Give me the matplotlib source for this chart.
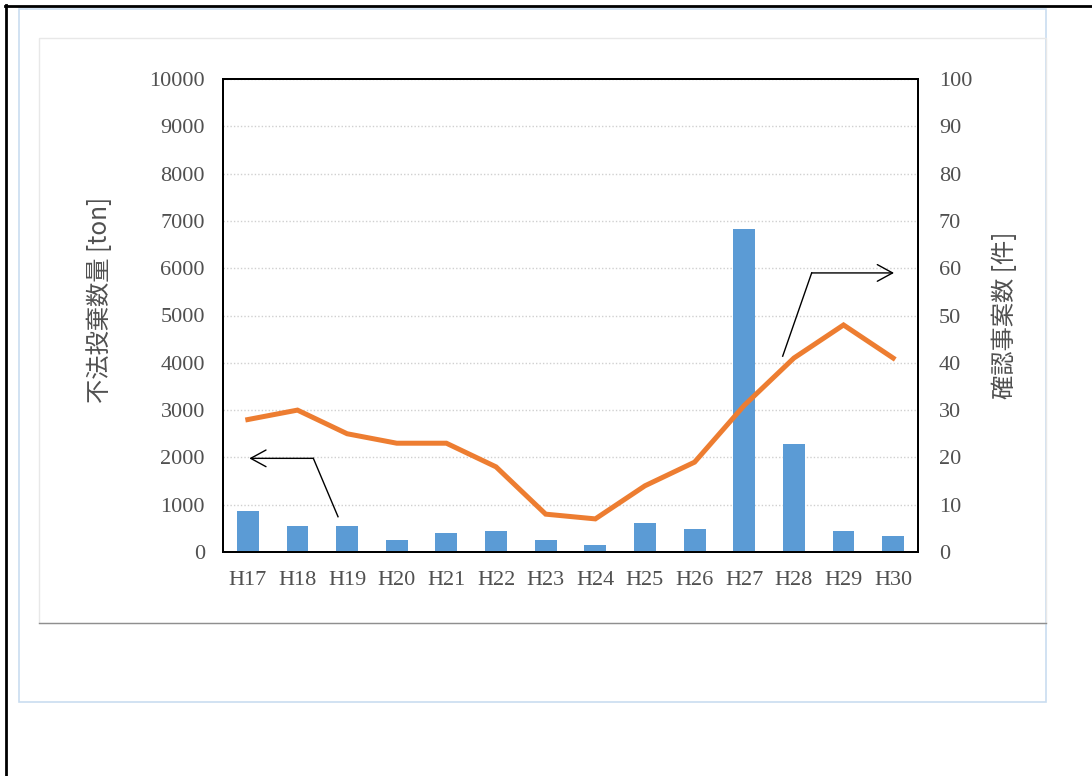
import matplotlib
matplotlib.use("Agg")
import matplotlib.pyplot as plt
from matplotlib.patches import Rectangle, FancyArrowPatch
from matplotlib.lines import Line2D
import numpy as np

# Fiscal years (Heisei era)
years = ["H17", "H18", "H19", "H20", "H21", "H22", "H23",
         "H24", "H25", "H26", "H27", "H28", "H29", "H30"]
# Illegally dumped amount [ton]
dumped_tons = [870, 540, 540, 260, 410, 450, 260,
               140, 610, 490, 6820, 2290, 440, 330]
# Number of confirmed cases
case_counts = [28, 30, 25, 23, 23, 18, 8,
               7, 14, 19, 31, 41, 48, 41]

left_ticks = list(range(0, 10001, 1000))
right_ticks = list(range(0, 101, 10))

BAR_COLOR = "#5B9BD5"
LINE_COLOR = "#ED7D31"
TEXT_COLOR = "#505050"
SERIF = ["Liberation Serif", "DejaVu Serif"]
CJK = ["Noto Sans CJK JP", "DejaVu Sans"]

W, H = 1092, 776
fig = plt.figure(figsize=(W / 100, H / 100), dpi=100)


def fx(px):
    return px / W


def fy(py):
    return 1 - py / H


# Page frame and chart-area boxes
fig.add_artist(Rectangle((fx(19), fy(702)), fx(1046) - fx(19), fy(9) - fy(702),
                         transform=fig.transFigure, fill=False,
                         edgecolor="#C9DDF0", linewidth=1.2))
fig.add_artist(Rectangle((fx(39), fy(623)), fx(1046) - fx(39), fy(38) - fy(623),
                         transform=fig.transFigure, fill=False,
                         edgecolor="#E8E8E8", linewidth=1.0))
fig.add_artist(Line2D([fx(39), fx(1046)], [fy(623), fy(623)],
                      transform=fig.transFigure, color="#8F8F8F", linewidth=1.0))
fig.add_artist(Line2D([fx(6), fx(6)], [fy(5), 0],
                      transform=fig.transFigure, color="black", linewidth=2.0))
fig.add_artist(Line2D([fx(5), 1], [fy(6), fy(6)],
                      transform=fig.transFigure, color="black", linewidth=2.0))

ax = fig.add_axes([fx(223), fy(552), fx(918) - fx(223), fy(79) - fy(552)])
ax2 = ax.twinx()

x = np.arange(len(years))
ax.bar(x, dumped_tons, width=0.44, color=BAR_COLOR, zorder=3)
ax2.plot(x, case_counts, color=LINE_COLOR, linewidth=3.6,
         solid_joinstyle="miter", zorder=4)

ax.set_xlim(-0.5, len(years) - 0.5)
ax.set_ylim(0, 10000)
ax2.set_ylim(0, 100)
ax.set_yticks(left_ticks)
ax2.set_yticks(right_ticks)
ax.set_xticks(x)
ax.set_xticklabels(years)

ax.yaxis.grid(True, linestyle=(0, (1, 1.5)), color="#D0D0D0", linewidth=1.0, zorder=0)
ax.set_axisbelow(True)

for a in (ax, ax2):
    for s in a.spines.values():
        s.set_color("black")
        s.set_linewidth(1.4)
    a.tick_params(length=0, labelcolor=TEXT_COLOR, labelsize=16)
    for lab in a.get_xticklabels() + a.get_yticklabels():
        lab.set_family(SERIF)
ax.tick_params(axis="y", pad=13)
ax2.tick_params(axis="y", pad=15)
ax.tick_params(axis="x", pad=14)

ax.set_ylabel("不法投棄数量 [ton]", family=CJK, fontsize=17.5, color=TEXT_COLOR)
ax.yaxis.set_label_coords(-0.158, 0.533)
ax2.set_ylabel("確認事案数 [件]", family=CJK, fontsize=17.5, color=TEXT_COLOR,
               rotation=90)
ax2.yaxis.set_label_coords(1.1065, 0.50)

# Pointer arrows to the relevant axes
def pointer(points):
    (x0, y0), (x1, y1), (x2, y2) = points
    ax.add_line(Line2D([x0, x1], [y0, y1], transform=ax.transAxes,
                       color="black", linewidth=1.0, zorder=6))
    ax.add_patch(FancyArrowPatch((x1, y1), (x2, y2), transform=ax.transAxes,
                                 arrowstyle="->,head_length=11,head_width=6",
                                 mutation_scale=1, color="black",
                                 linewidth=1.0, shrinkA=0, shrinkB=0, zorder=6))

pointer([(0.1655, 0.0746), (0.130, 0.198), (0.0378, 0.198)])
pointer([(0.8053, 0.414), (0.847, 0.590), (0.9655, 0.590)])

fig.savefig("out.png", dpi=100)
